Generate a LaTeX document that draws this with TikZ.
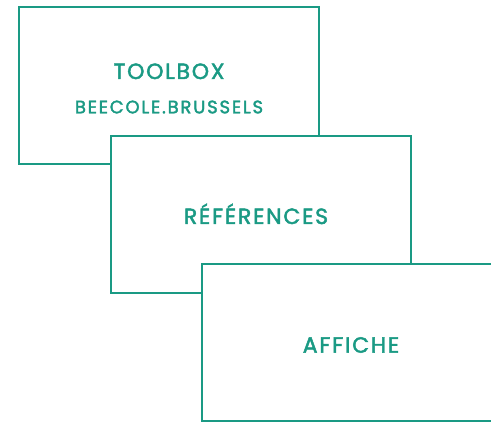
\documentclass[tikz,border=0pt]{standalone}
\usepackage{fontspec}
\setmainfont{Poppins}
\definecolor{beeteal}{RGB}{26,154,132}
\tikzset{
  card/.style={draw=beeteal, fill=white, line width=2pt, minimum width=300pt, minimum height=157pt, inner sep=0pt},
  title/.style={text=beeteal, anchor=base, inner sep=0pt, font=\fontsize{22}{22}\selectfont\addfontfeature{LetterSpace=8,FakeBold=2}},
  subtitle/.style={title, font=\fontsize{18}{18}\selectfont\addfontfeature{LetterSpace=10,FakeBold=2}}
}
\begin{document}
\begin{tikzpicture}[x=1pt, y=-1pt]
\useasboundingbox (0,0) rectangle (491,422);
% toolbox card
\node[card] (toolbox) at (169,86) {};
\node[title] (toolboxtext) at (169,79) {TOOLBOX};
\node[subtitle] (sitetext) at (169,113.3) {BEECOLE.BRUSSELS};
% references card
\node[card] (refs) at (260.5,214.5) {};
\node[title] (refstext) at (256,224) {RÉFÉRENCES};
% poster card
\node[card] (poster) at (352,343) {};
\node[title] (postertext) at (351,352.7) {AFFICHE};
\end{tikzpicture}
\end{document}
